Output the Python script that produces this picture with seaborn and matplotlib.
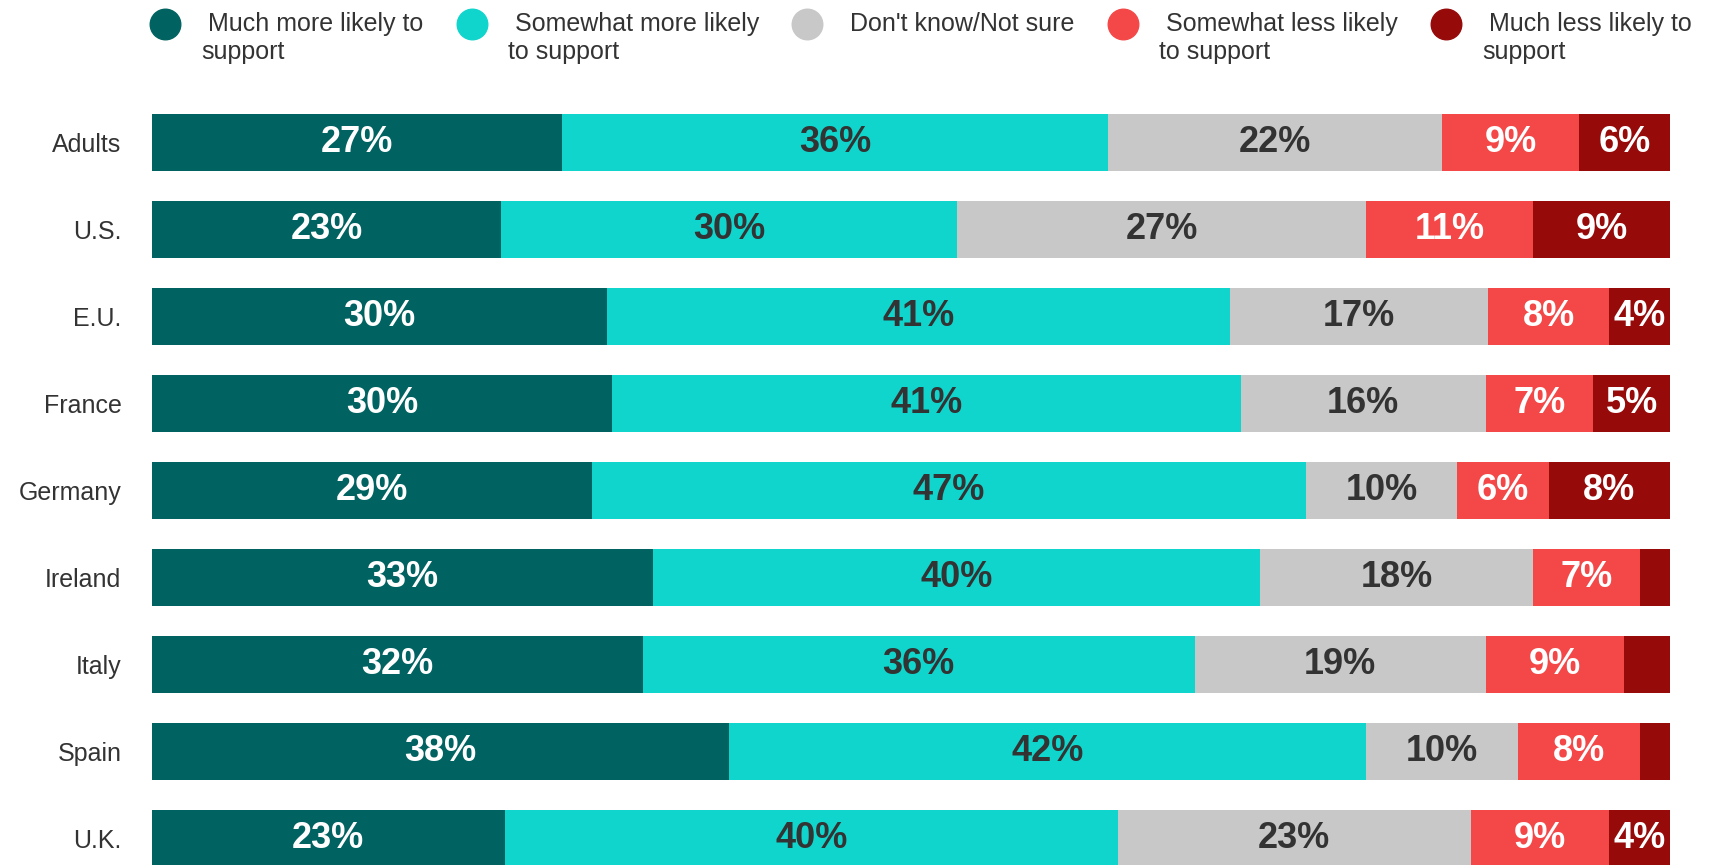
import numpy as np
import pandas as pd
import matplotlib
matplotlib.use("Agg")
import matplotlib.pyplot as plt
from matplotlib.lines import Line2D
from matplotlib.legend_handler import HandlerLine2D
import seaborn as sns

regions = ['Adults', 'U.S.', 'E.U.', 'France', 'Germany', 'Ireland', 'Italy', 'Spain', 'U.K.']
much_more = [27, 23, 30, 30, 29, 33, 32, 38, 23]
somewhat_more = [36, 30, 41, 41, 47, 40, 36, 42, 40]
dont_know = [22, 27, 17, 16, 10, 18, 19, 10, 23]
somewhat_less = [9, 11, 8, 7, 6, 7, 9, 8, 9]
much_less = [6, 9, 4, 5, 8, 2, 3, 2, 4]

series = ['Much more likely to support', 'Somewhat more likely to support',
          "Don't know/Not sure", 'Somewhat less likely to support',
          'Much less likely to support']
legend_labels = [' Much more likely to\nsupport', ' Somewhat more likely\nto support',
                 " Don't know/Not sure\n ", ' Somewhat less likely\nto support',
                 ' Much less likely to\nsupport']
colors = ['#006361', '#10D5CC', '#C8C8C8', '#F44848', '#960A0A']
text_colors = ['white', '#333333', '#333333', 'white', 'white']

sns.set_theme(style='white')
fam = ['Liberation Sans Narrow', 'Liberation Sans', 'DejaVu Sans']
plt.rcParams['font.family'] = fam


class FirstLineMarker(HandlerLine2D):
    # put the legend dot next to the first text line, not the block centre
    def create_artists(self, legend, orig_handle, xdescent, ydescent,
                       width, height, fontsize, trans):
        arts = super().create_artists(legend, orig_handle, xdescent, ydescent,
                                      width, height, fontsize, trans)
        for a in arts:
            a.set_ydata([y + 0.6 * fontsize for y in a.get_ydata()])
        return arts


df = pd.DataFrame({'region': regions, series[0]: much_more, series[1]: somewhat_more,
                   series[2]: dont_know, series[3]: somewhat_less, series[4]: much_less})
vals = df[series].to_numpy(dtype=float)
shares = vals / vals.sum(axis=1, keepdims=True) * 100
cum = np.cumsum(shares, axis=1)

fig = plt.figure(figsize=(17.19, 8.65), dpi=100)
ax = fig.add_axes([152 / 1719, 0, 1518 / 1719, 766 / 865])

# stacked bars: draw cumulative totals from the outside in
for k in range(len(series) - 1, -1, -1):
    plot_df = pd.DataFrame({'region': regions, 'value': cum[:, k]})
    sns.barplot(data=plot_df, x='value', y='region', orient='h', color=colors[k],
                saturation=1, width=0.655, ax=ax, order=regions,
                linewidth=0, edgecolor='none')

for k in range(len(series)):
    for i in range(len(regions)):
        if vals[i, k] < 4:
            continue
        center = cum[i, k] - shares[i, k] / 2
        ax.text(center, i, f'{int(vals[i, k])}%', ha='center', va='center',
                fontsize=26, fontweight='bold', color=text_colors[k], family=fam)

ax.set_xlim(0, 100)
ax.set_ylim(8.305, -0.5)
ax.set_xlabel('')
ax.set_ylabel('')
ax.set_xticks([])
ax.tick_params(axis='y', length=0, pad=22, labelsize=18, labelcolor='#333333')
sns.despine(ax=ax, left=True, bottom=True)

handles = [Line2D([0], [0], marker='o', linestyle='', markersize=22,
                  markerfacecolor=c, markeredgecolor=c) for c in colors]
fig.legend(handles, legend_labels, ncol=5, loc='center left',
           bbox_to_anchor=(150 / 1719, 1 - 38 / 865), frameon=False,
           fontsize=18, handlelength=1.2, handletextpad=0.85, columnspacing=1.32,
           borderpad=0, borderaxespad=0, labelcolor='#333333', labelspacing=0,
           handler_map={Line2D: FirstLineMarker()})

fig.savefig('out.png', dpi=100)
